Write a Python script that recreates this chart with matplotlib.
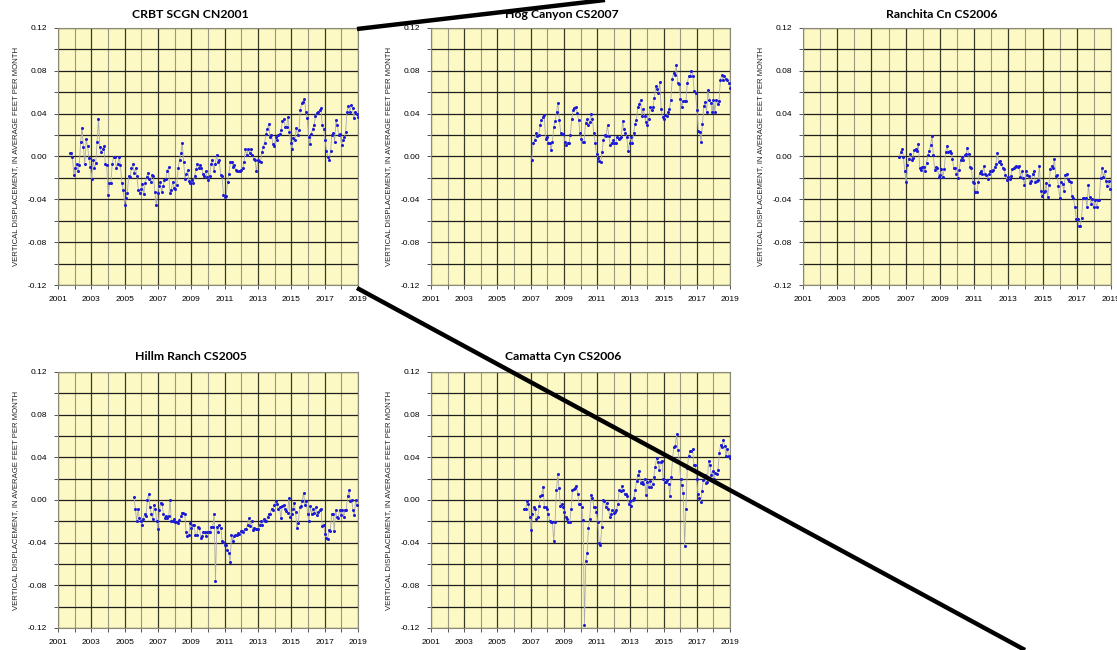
"""Vertical displacement rate at five CGPS stations (2001-2019)."""
import matplotlib

matplotlib.use("Agg")
import matplotlib.pyplot as plt
from matplotlib.lines import Line2D
import numpy as np

W, H = 1117, 650
BG = "#fdf9c4"
DOT = "#1c1cd6"
YLABEL = "VERTICAL DISPLACEMENT, IN AVERAGE FEET PER MONTH"

plt.rcParams["font.family"] = ["Liberation Sans", "DejaVu Sans"]

# --- data (monthly values, feet) -------------------------------------------
crbt_span = (2001.7, 2019.0)
crbt = [0.003, 0.003, 0.000, -0.017, -0.011, -0.007, -0.014, -0.008, 0.014, 0.027,
        0.009, -0.007, 0.016, 0.010, -0.001, -0.010, -0.021, -0.003, -0.011, -0.006,
        0.014, 0.035, 0.009, 0.004, 0.007, 0.010, -0.007, -0.008, -0.036, -0.025,
        -0.025, -0.007, 0.000, 0.000, -0.011, -0.007, 0.000, -0.008, -0.025, -0.031,
        -0.045, -0.039, -0.034, -0.018, -0.019, -0.011, -0.007, -0.015, -0.011, -0.018,
        -0.031, -0.034, -0.030, -0.026, -0.035, -0.025, -0.019, -0.015, -0.021, -0.024,
        -0.017, -0.018, -0.033, -0.045, -0.034, -0.028, -0.024, -0.033, -0.028, -0.022,
        -0.021, -0.014, -0.010, -0.034, -0.031, -0.024, -0.029, -0.030, -0.027, -0.011,
        -0.003, 0.003, 0.013, -0.005, -0.021, -0.016, -0.013, -0.023, -0.025, -0.022,
        -0.025, -0.018, -0.012, -0.007, -0.011, -0.008, -0.011, -0.016, -0.018, -0.014,
        -0.019, -0.022, -0.018, -0.007, -0.003, -0.014, -0.007, 0.001, -0.005, -0.003,
        -0.017, -0.018, -0.036, -0.038, -0.037, -0.024, -0.016, -0.005, -0.005, -0.010,
        -0.008, -0.013, -0.014, -0.014, -0.014, -0.013, -0.011, -0.005, 0.007, 0.001,
        0.007, 0.003, 0.007, 0.001, -0.002, -0.003, -0.014, -0.003, -0.004, -0.005,
        0.004, 0.009, 0.013, 0.021, 0.026, 0.030, 0.018, 0.020, 0.012, 0.010,
        0.018, 0.015, 0.020, 0.021, 0.025, 0.033, 0.035, 0.028, 0.028, 0.037,
        0.023, 0.013, 0.007, 0.017, 0.015, 0.027, 0.020, 0.025, 0.043, 0.050,
        0.051, 0.054, 0.042, 0.036, 0.018, 0.012, 0.021, 0.026, 0.029, 0.038,
        0.041, 0.042, 0.043, 0.045, 0.029, 0.026, 0.015, 0.005, 0.000, -0.003,
        0.005, 0.020, 0.022, 0.014, 0.034, 0.029, 0.020, 0.021, 0.011, 0.015,
        0.018, 0.023, 0.042, 0.047, 0.042, 0.048, 0.045, 0.036, 0.042, 0.040, 0.037]

hog_span = (2007.07, 2019.0)
hog = [-0.003, 0.013, 0.015, 0.022, 0.019, 0.020, 0.029, 0.034, 0.037, 0.039,
       0.016, 0.018, 0.013, 0.013, 0.006, 0.014, 0.028, 0.033, 0.042, 0.050,
       0.034, 0.022, 0.021, 0.021, 0.014, 0.011, 0.013, 0.013, 0.020, 0.035,
       0.043, 0.045, 0.046, 0.041, 0.034, 0.022, 0.016, 0.014, 0.014, 0.031,
       0.035, 0.029, 0.032, 0.040, 0.035, 0.022, 0.013, 0.002, -0.001, -0.004,
       -0.005, 0.004, 0.015, 0.020, 0.019, 0.029, 0.019, 0.011, 0.013, 0.015,
       0.013, 0.013, 0.018, 0.016, 0.017, 0.018, 0.033, 0.026, 0.022, 0.018,
       0.005, 0.013, 0.018, 0.013, 0.022, 0.030, 0.034, 0.046, 0.049, 0.053,
       0.038, 0.044, 0.038, 0.032, 0.029, 0.035, 0.046, 0.043, 0.046, 0.055,
       0.066, 0.063, 0.059, 0.070, 0.044, 0.037, 0.035, 0.039, 0.038, 0.042,
       0.044, 0.053, 0.072, 0.078, 0.076, 0.085, 0.069, 0.068, 0.054, 0.046,
       0.052, 0.052, 0.052, 0.069, 0.075, 0.075, 0.080, 0.075, 0.061, 0.059,
       0.043, 0.024, 0.023, 0.014, 0.030, 0.047, 0.051, 0.042, 0.062, 0.053,
       0.050, 0.042, 0.053, 0.042, 0.053, 0.049, 0.052, 0.071, 0.076, 0.071,
       0.075, 0.072, 0.071, 0.069, 0.064]

ranchita_span = (2006.63, 2018.95)
ranchita = [0.000, 0.004, 0.007, 0.000, -0.014, -0.024, -0.008, -0.002, 0.002, -0.003,
            -0.001, 0.006, 0.007, 0.005, 0.012, -0.011, -0.013, -0.010, -0.010, -0.014,
            -0.006, 0.001, 0.005, 0.011, 0.019, 0.001, -0.013, -0.010, -0.011, -0.019,
            -0.017, -0.012, -0.019, -0.012, 0.004, 0.010, 0.004, 0.005, 0.003, -0.002,
            -0.011, -0.011, -0.016, -0.020, -0.013, -0.003, 0.000, -0.003, 0.001, 0.002,
            0.008, 0.002, -0.010, -0.011, -0.024, -0.025, -0.033, -0.033, -0.024, -0.015,
            -0.014, -0.016, -0.009, -0.016, -0.017, -0.021, -0.016, -0.014, -0.014, -0.013,
            -0.010, -0.007, 0.003, -0.005, -0.004, -0.007, -0.011, -0.012, -0.017, -0.022,
            -0.019, -0.021, -0.018, -0.012, -0.011, -0.010, -0.009, -0.010, -0.009, -0.019,
            -0.014, -0.020, -0.027, -0.014, -0.017, -0.018, -0.025, -0.023, -0.016, -0.014,
            -0.024, -0.023, -0.022, -0.009, -0.032, -0.037, -0.033, -0.032, -0.025, -0.038,
            -0.027, -0.012, -0.009, -0.011, -0.002, -0.018, -0.017, -0.028, -0.039, -0.024,
            -0.026, -0.032, -0.017, -0.016, -0.021, -0.023, -0.024, -0.037, -0.039, -0.047,
            -0.058, -0.058, -0.065, -0.065, -0.057, -0.039, -0.039, -0.039, -0.047, -0.027,
            -0.038, -0.044, -0.040, -0.047, -0.041, -0.047, -0.041, -0.041, -0.020, -0.011,
            -0.019, -0.014, -0.023, -0.028, -0.023, -0.030]

hillm_span = (2005.56, 2018.94)
hillm = [0.003, -0.008, -0.020, -0.008, -0.017, -0.020, -0.023, -0.018, -0.013, -0.015,
         0.000, 0.006, -0.007, -0.013, -0.018, -0.005, -0.008, -0.020, -0.027, -0.009,
         -0.003, -0.004, -0.013, -0.017, -0.015, -0.017, -0.015, 0.000, -0.020, -0.020,
         -0.018, -0.021, -0.021, -0.022, -0.019, -0.015, -0.012, -0.012, -0.013, -0.030,
         -0.034, -0.033, -0.022, -0.026, -0.023, -0.023, -0.033, -0.033, -0.025, -0.026,
         -0.036, -0.034, -0.030, -0.030, -0.034, -0.030, -0.030, -0.030, -0.025, -0.025,
         -0.013, -0.076, -0.025, -0.030, -0.023, -0.026, -0.038, -0.039, -0.042, -0.042,
         -0.047, -0.050, -0.058, -0.033, -0.038, -0.034, -0.033, -0.033, -0.031, -0.032,
         -0.029, -0.029, -0.030, -0.027, -0.027, -0.023, -0.017, -0.024, -0.020, -0.028,
         -0.026, -0.027, -0.027, -0.027, -0.023, -0.020, -0.023, -0.018, -0.020, -0.020,
         -0.016, -0.013, -0.013, -0.008, -0.009, -0.005, -0.001, -0.004, -0.008, -0.007,
         -0.017, -0.006, -0.005, -0.008, -0.010, -0.012, 0.002, -0.016, -0.013, -0.008,
         -0.003, -0.011, -0.026, -0.022, -0.007, -0.006, -0.001, 0.007, -0.005, -0.001,
         -0.013, -0.020, -0.006, -0.013, -0.008, -0.012, -0.007, -0.014, -0.011, -0.009,
         -0.008, -0.024, -0.023, -0.032, -0.036, -0.037, -0.028, -0.029, -0.013, -0.013,
         -0.029, -0.009, -0.016, -0.017, -0.009, -0.014, -0.009, -0.016, -0.009, -0.009,
         0.004, 0.009, -0.001, 0.000, -0.009, -0.014, 0.000, -0.005]

camatta_span = (2006.62, 2019.0)
camatta = [-0.008, -0.008, -0.001, -0.004, -0.016, -0.028, -0.013, -0.007, -0.008, -0.018,
           -0.016, -0.006, 0.004, 0.005, 0.012, -0.007, -0.007, -0.008, -0.013, -0.020,
           -0.021, -0.021, -0.038, -0.021, 0.009, 0.024, 0.011, -0.006, -0.004, -0.007,
           -0.011, -0.016, -0.018, -0.021, -0.021, -0.008, 0.009, 0.010, 0.011, 0.013,
           0.006, -0.004, -0.004, -0.007, -0.019, -0.117, -0.057, -0.050, -0.026, -0.018,
           0.005, 0.002, -0.007, -0.007, -0.011, -0.021, -0.040, -0.042, -0.025, 0.000,
           -0.001, -0.007, -0.003, -0.008, -0.016, -0.013, -0.009, -0.012, -0.011, -0.009,
           -0.004, 0.009, 0.008, 0.013, 0.009, 0.006, 0.006, 0.004, -0.004, -0.001,
           -0.006, 0.000, 0.002, 0.009, 0.018, 0.023, 0.027, 0.016, 0.017, 0.015,
           0.020, 0.005, 0.017, 0.012, 0.018, 0.012, 0.015, 0.022, 0.031, 0.039,
           0.036, 0.028, 0.036, 0.037, 0.020, 0.017, 0.017, 0.019, 0.015, 0.004,
           0.022, 0.039, 0.050, 0.051, 0.062, 0.047, 0.036, 0.020, 0.014, 0.007,
           -0.043, -0.008, 0.030, 0.041, 0.046, 0.046, 0.048, 0.033, 0.033, 0.020,
           0.006, 0.002, -0.002, 0.008, 0.019, 0.023, 0.016, 0.017, 0.037, 0.033,
           0.023, 0.027, 0.020, 0.025, 0.024, 0.028, 0.044, 0.052, 0.050, 0.056,
           0.051, 0.041, 0.048, 0.041, 0.039]

stations = [
    ("CRBT SCGN CN2001", crbt_span, crbt),
    ("Hog Canyon CS2007", hog_span, hog),
    ("Ranchita Cn CS2006", ranchita_span, ranchita),
    ("Hillm Ranch CS2005", hillm_span, hillm),
    ("Camatta Cyn CS2006", camatta_span, camatta),
]

# pixel boxes (left, right, top, bottom) and title anchors
boxes = [(58, 358, 28, 285), (431, 730, 28, 285), (803, 1111, 28, 285),
         (58, 358, 372, 628), (431, 730, 372, 628)]
title_xy = [(190, 14), (562, 14), (942, 14), (191, 357), (563, 357)]


def _panel(fig, box, title, txy, span, vals):
    l, r, t, b = box
    ax = fig.add_axes([l / W, 1 - b / H, (r - l) / W, (b - t) / H])
    ax.set_facecolor(BG)
    x = np.linspace(span[0], span[1], len(vals))
    ax.plot(x, vals, "-", color="#a9a9a9", lw=0.6, zorder=3)
    ax.plot(x, vals, "o", color=DOT, ms=2.2, mew=0, zorder=4)
    ax.set_xlim(2001, 2019)
    ax.set_ylim(-0.12, 0.12)
    ax.set_xticks(np.arange(2001, 2020, 2))
    ax.set_xticks(np.arange(2002, 2019, 2), minor=True)
    ax.set_yticks(np.arange(-0.12, 0.121, 0.04))
    ax.set_yticks(np.arange(-0.10, 0.11, 0.04), minor=True)
    ax.set_yticklabels([f"{v:.2f}" for v in np.arange(-0.12, 0.121, 0.04)])
    ax.grid(which="major", axis="x", color="#3a3a2a", lw=0.9)
    ax.grid(which="minor", axis="x", color="#9a9a80", lw=0.8)
    ax.grid(which="both", axis="y", color="#1e1e1e", lw=0.9)
    ax.set_axisbelow(True)
    ax.tick_params(which="both", direction="out", length=3, width=0.7,
                   color="#555555", labelsize=6, pad=5)
    for s in ax.spines.values():
        s.set_color("#8a8a78")
        s.set_linewidth(0.8)
    ax.set_ylabel(YLABEL, fontsize=5.6, labelpad=6, color="#222222")
    fig.text(txy[0] / W, 1 - txy[1] / H, title, ha="center", va="center",
             fontsize=8.8, fontweight="bold", family=["Lato", "DejaVu Sans"])
    return ax


def main():
    fig = plt.figure(figsize=(W / 100, H / 100), dpi=100)
    for (title, span, vals), box, txy in zip(stations, boxes, title_xy):
        _panel(fig, box, title, txy, span, vals)
    # callout lines drawn over the figure
    for (x0, y0), (x1, y1) in [((357, 29), (605, 0)), ((357, 288), (1025, 650))]:
        fig.add_artist(Line2D([x0 / W, x1 / W], [1 - y0 / H, 1 - y1 / H],
                              color="black", lw=3.2, solid_capstyle="butt",
                              zorder=10))
    fig.savefig("out.png", dpi=100)
    plt.close(fig)


if __name__ == "__main__":
    main()
